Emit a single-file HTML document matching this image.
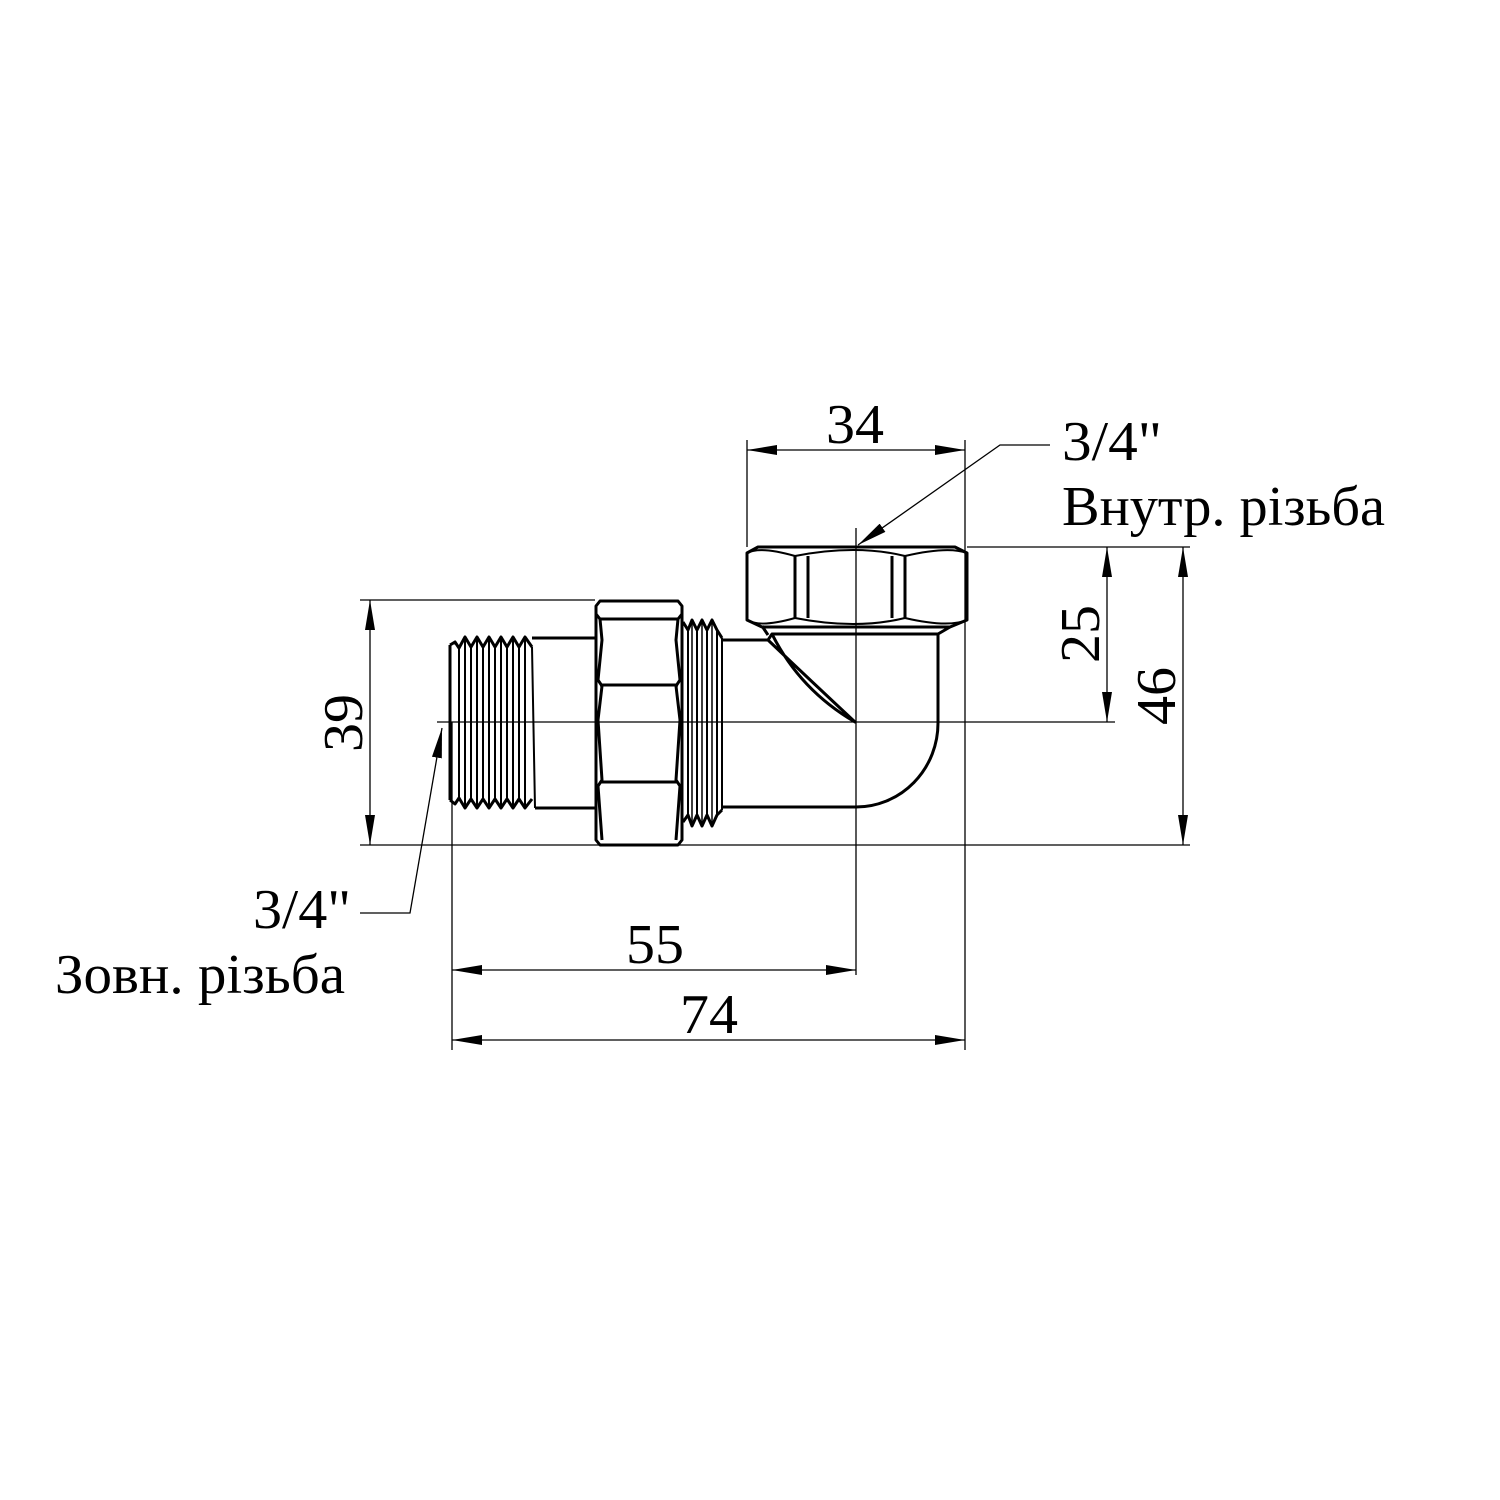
<!DOCTYPE html>
<html><head><meta charset="utf-8"><style>html,body{margin:0;padding:0;background:#fff}svg{display:block}</style></head><body>
<svg width="1500" height="1500" viewBox="0 0 1500 1500" xmlns="http://www.w3.org/2000/svg">
<defs>
<marker id="a" viewBox="0 0 30 10" refX="30" refY="5" markerWidth="30" markerHeight="10" markerUnits="userSpaceOnUse" orient="auto"><path d="M0,0 L30,5 L0,10 Z" fill="#000"/></marker>
<marker id="b" viewBox="0 0 30 10" refX="0" refY="5" markerWidth="30" markerHeight="10" markerUnits="userSpaceOnUse" orient="auto"><path d="M30,0 L0,5 L30,10 Z" fill="#000"/></marker>
</defs>
<g stroke="#000" stroke-width="1.3" fill="none">
<line x1="747" y1="440" x2="747" y2="547"/>
<line x1="965" y1="440" x2="965" y2="1050"/>
<line x1="360" y1="600" x2="595" y2="600"/>
<line x1="360" y1="845" x2="1190" y2="845"/>
<line x1="967" y1="547" x2="1190" y2="547"/>
<line x1="437" y1="722" x2="1115" y2="722"/>
<line x1="856" y1="528" x2="856" y2="975"/>
<line x1="452" y1="722" x2="452" y2="1050"/>
<line x1="747" y1="450" x2="965" y2="450" marker-start="url(#b)" marker-end="url(#a)"/>
<line x1="370" y1="600" x2="370" y2="845" marker-start="url(#b)" marker-end="url(#a)"/>
<line x1="1107" y1="547" x2="1107" y2="722" marker-start="url(#b)" marker-end="url(#a)"/>
<line x1="1183" y1="547" x2="1183" y2="845" marker-start="url(#b)" marker-end="url(#a)"/>
<line x1="452" y1="970" x2="856" y2="970" marker-start="url(#b)" marker-end="url(#a)"/>
<line x1="452" y1="1040" x2="965" y2="1040" marker-start="url(#b)" marker-end="url(#a)"/>
<polyline points="1050,445 1000,445 858,545" marker-end="url(#a)"/>
<polyline points="360,913 410,913 442,728" marker-end="url(#a)"/>
</g>
<g stroke="#000" stroke-width="3" fill="none" stroke-linejoin="round">
<path d="M450,645 L455,642 L459,648 L465,637 L471,647 L477,637 L483,647 L489,637 L495,647 L501,637 L507,647 L513,637 L519,647 L525,637 L532,647"/>
<path d="M450,800 L455,804 L459,798 L465,808 L471,799 L477,808 L483,799 L489,808 L495,799 L501,808 L507,799 L513,808 L519,799 L525,808 L532,799"/>
<line x1="450" y1="645" x2="450" y2="800"/>
<path d="M459,648 L459,798 M471,647 L471,799 M483,647 L483,799 M495,647 L495,799 M507,647 L507,799 M519,647 L519,799 M532,647 L535,808" stroke-width="2"/>
<path d="M465,637 L465,808 M477,637 L477,808 M489,637 L489,808 M501,637 L501,808 M513,637 L513,808 M525,637 L525,808" stroke-width="2"/>
<line x1="532" y1="638" x2="595" y2="638"/>
<line x1="535" y1="808" x2="595" y2="808"/>
<path d="M600,601 L678,601 L682,606 L682,614 L678,619 L600,619 L596,614 L596,606 Z"/>
<path d="M596,614 L596,840 L600,845 L678,845 L682,840 L682,614"/>
<path d="M600,619 L602,640 L598,680 L602,686 L598,720 L602,780 L598,786 L602,840"/>
<path d="M678,619 L676,640 L680,680 L676,686 L680,720 L676,780 L680,786 L676,840"/>
<line x1="600" y1="685" x2="678" y2="685"/>
<line x1="600" y1="782" x2="678" y2="782"/>
<path d="M683,622 L688,630 L692,620 L697,630 L702,620 L707,630 L712,620 L717,630 L722,638"/>
<path d="M683,822 L688,815 L692,826 L697,815 L702,826 L707,815 L712,826 L717,815 L722,810"/>
<path d="M688,630 L688,815 M697,630 L697,815 M707,630 L707,815 M717,630 L717,815 M722,638 L722,810" stroke-width="2"/>
<path d="M692,620 L692,826 M702,620 L702,826 M712,620 L712,826" stroke-width="1.5"/>
<line x1="722" y1="640" x2="768" y2="640"/>
<line x1="722" y1="807" x2="856" y2="807"/>
<path d="M856,807 A82,84 0 0 0 938,723 L938,633"/>
<path d="M768,640 L772,634 L938,634 L950,627"/>
<path d="M772,634 Q800,690 855,722 Q810,680 768,640"/>
<path d="M768,635 L762,626"/>
<path d="M758,547 L955,547 L967,553 L967,620 L950,627 L762,627 L747,620 L747,553 Z"/>
<path d="M747,620 Q760,628 795,618 Q856,630 905,618 Q948,628 967,620" stroke-width="2"/>
<path d="M747,553 Q760,546 795,556 Q856,544 905,556 Q948,546 967,553" stroke-width="2"/>
<line x1="795" y1="556" x2="795" y2="618"/>
<line x1="808" y1="556" x2="808" y2="618"/>
<line x1="905" y1="556" x2="905" y2="618"/>
<line x1="892" y1="556" x2="892" y2="618"/>
</g>
<g font-family="'Liberation Serif', serif" font-size="56" fill="#000">
<text x="826" y="443" textLength="58" lengthAdjust="spacingAndGlyphs">34</text>
<text x="1062" y="460" textLength="100" lengthAdjust="spacingAndGlyphs">3/4"</text>
<text x="1062" y="525" textLength="323" lengthAdjust="spacingAndGlyphs">Внутр. різьба</text>
<text x="253" y="928" textLength="98" lengthAdjust="spacingAndGlyphs">3/4"</text>
<text x="55" y="993" textLength="290" lengthAdjust="spacingAndGlyphs">Зовн. різьба</text>
<text x="626" y="963" textLength="58" lengthAdjust="spacingAndGlyphs">55</text>
<text x="680" y="1033" textLength="58" lengthAdjust="spacingAndGlyphs">74</text>
<text transform="translate(362,752) rotate(-90)" textLength="58" lengthAdjust="spacingAndGlyphs">39</text>
<text transform="translate(1099,663) rotate(-90)" textLength="58" lengthAdjust="spacingAndGlyphs">25</text>
<text transform="translate(1175,725) rotate(-90)" textLength="58" lengthAdjust="spacingAndGlyphs">46</text>
</g>
</svg>
</body></html>
